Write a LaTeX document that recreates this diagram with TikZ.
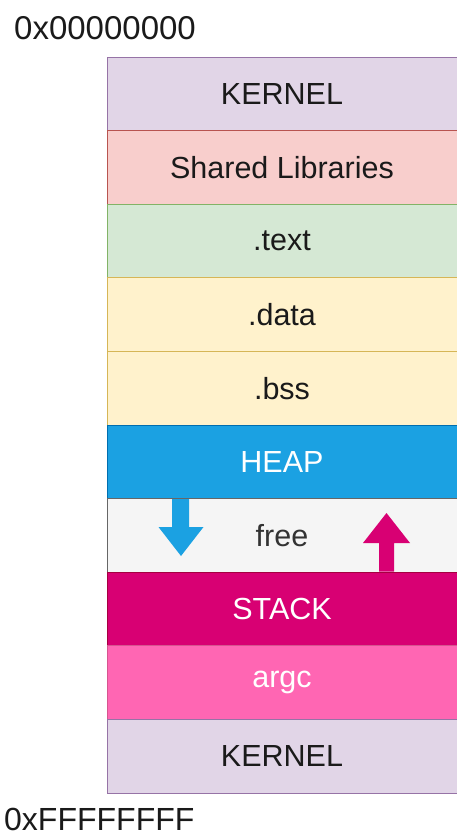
\documentclass[tikz,border=0pt]{standalone}
\usepackage{fontspec}
\setmainfont{Liberation Sans}
\definecolor{kfill}{HTML}{E1D5E7}\definecolor{kline}{HTML}{9673A6}
\definecolor{sfill}{HTML}{F8CECC}\definecolor{sline}{HTML}{B85450}
\definecolor{tfill}{HTML}{D5E8D4}\definecolor{tline}{HTML}{82B366}
\definecolor{dfill}{HTML}{FFF2CC}\definecolor{dline}{HTML}{D6B656}
\definecolor{hfill}{HTML}{1BA1E2}\definecolor{hline}{HTML}{006EAF}
\definecolor{ffill}{HTML}{F5F5F5}\definecolor{fline}{HTML}{666666}
\definecolor{stfill}{HTML}{D80073}\definecolor{stline}{HTML}{A50040}
\definecolor{afill}{HTML}{FF66B3}\definecolor{aline}{HTML}{D6558F}
\definecolor{txt}{HTML}{1A1A1A}
\begin{document}
\begin{tikzpicture}[x=1pt,y=-1pt,
  seg/.style={draw, line width=0.8pt, minimum width=350pt, minimum height=73.6pt, inner sep=0pt, font=\fontsize{30.5}{34}\selectfont, text=txt},
  addr/.style={font=\fontsize{33}{38}\selectfont, text=txt, inner sep=0pt}]
\useasboundingbox (0,0) rectangle (456,837);
\node[seg, fill=kfill, draw=kline] (k1) at (282,93.8) {KERNEL};
\node[seg, fill=sfill, draw=sline] (sl) at (282,167.4) {Shared Libraries};
\node[seg, fill=tfill, draw=tline] (tx) at (282,241.0) {.text};
\node[seg, fill=dfill, draw=dline] (da) at (282,314.6) {.data};
\node[seg, fill=dfill, draw=dline] (bs) at (282,388.2) {.bss};
\node[seg, fill=hfill, draw=hline, text=white] (hp) at (282,461.8) {HEAP};
\node[seg, fill=ffill, draw=fline, text=black!80] (fr) at (282,535.4) {free};
\node[seg, fill=stfill, draw=stline, text=white] (st) at (282,609.0) {STACK};
\node[seg, fill=afill, draw=aline, text=white] (ar) at (282,682.6) {argc};
\node[seg, fill=kfill, draw=kline] (k2) at (282,756.2) {KERNEL};
\node[addr, anchor=west] (top) at (14,28) {0x00000000};
\node[addr, anchor=west, font=\fontsize{32}{36}\selectfont] (bot) at (4,819) {0xFFFFFFFF};
% heap growth arrow (down)
\fill[hfill] (172,499) -- (189,499) -- (189,527) -- (203.5,527) -- (181,556) -- (158.5,527) -- (172,527) -- cycle;
% stack growth arrow (up)
\fill[stfill] (379,571.5) -- (394,571.5) -- (394,543) -- (410,543) -- (386.5,513) -- (363,543) -- (379,543) -- cycle;
\end{tikzpicture}
\end{document}
